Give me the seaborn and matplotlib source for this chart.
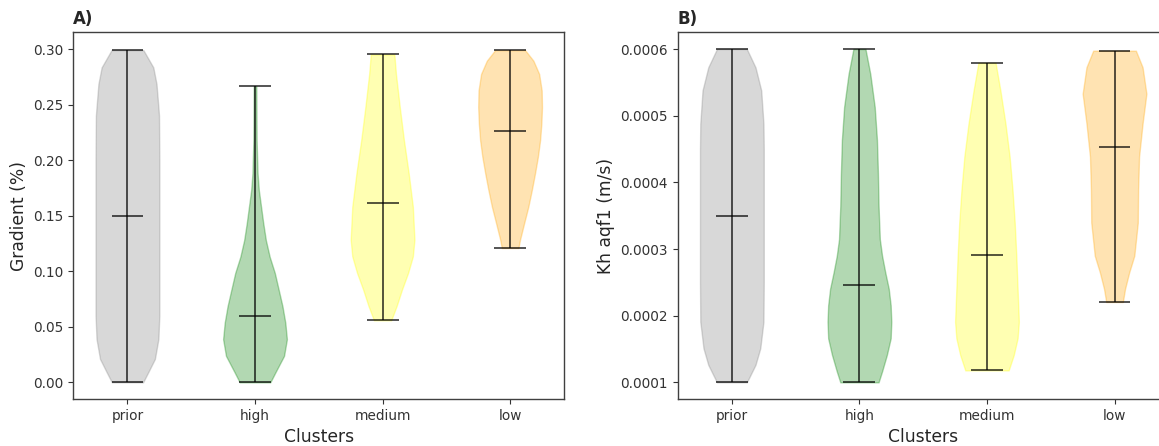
import numpy as np
import matplotlib
matplotlib.use("Agg")
import matplotlib.pyplot as plt
import seaborn as sns

# ---------------- data ----------------
clusters = ["prior", "high", "medium", "low"]
colors = ["grey", "green", "yellow", "orange"]

# Panel A: Gradient (%)
grad_min = [0.0, 0.0, 0.0558, 0.1209]
grad_max = [0.2990, 0.2665, 0.2952, 0.2990]
grad_median = [0.150, 0.0597, 0.1612, 0.2262]

grad_prior_y = [0.0, 0.009, 0.021, 0.039, 0.06, 0.10, 0.15, 0.20, 0.24, 0.2477, 0.2687, 0.2835, 0.299]
grad_prior_d = [0.49, 0.65, 0.86, 0.97, 1.0, 1.0, 1.0, 1.0, 0.99, 0.97, 0.91, 0.81, 0.50]

grad_high_y = [0.0, 0.009, 0.0238, 0.0388, 0.0537, 0.0686, 0.0836, 0.0985, 0.113, 0.128, 0.143, 0.158, 0.173, 0.188, 0.218, 0.2665]
grad_high_d = [0.48, 0.64, 0.91, 1.0, 0.95, 0.86, 0.74, 0.62, 0.46, 0.34, 0.26, 0.19, 0.12, 0.08, 0.05, 0.04]

grad_medium_y = [0.0558, 0.0686, 0.0836, 0.0985, 0.1134, 0.1283, 0.158, 0.188, 0.2179, 0.2477, 0.2776, 0.2952]
grad_medium_d = [0.27, 0.44, 0.61, 0.80, 0.95, 1.0, 0.95, 0.82, 0.67, 0.54, 0.42, 0.37]

grad_low_y = [0.1209, 0.1283, 0.1433, 0.158, 0.173, 0.188, 0.2029, 0.2179, 0.2328, 0.2477, 0.2627, 0.2776, 0.2895, 0.299]
grad_low_d = [0.26, 0.31, 0.44, 0.57, 0.68, 0.78, 0.87, 0.94, 0.98, 1.0, 0.99, 0.91, 0.73, 0.47]

# Panel B: Kh aqf1 (m/s)
kh_min = [0.0001, 0.0001, 0.0001179, 0.0002205]
kh_max = [0.0006, 0.0006, 0.0005792, 0.0005975]
kh_median = [0.000349, 0.0002463, 0.0002909, 0.0004527]

kh_prior_y = [0.0001, 0.0001262, 0.000151, 0.0001908, 0.00025, 0.00035, 0.00045, 0.000488, 0.000538, 0.0005726, 0.0006]
kh_prior_d = [0.47, 0.74, 0.89, 0.99, 1.0, 1.0, 1.0, 0.99, 0.92, 0.74, 0.47]

kh_high_y = [0.0001, 0.0001164, 0.0001411, 0.000166, 0.0001908, 0.0002155, 0.0002403, 0.000265, 0.0002899, 0.0003147, 0.0003643, 0.000414, 0.0004635, 0.000513, 0.0005628, 0.0006]
kh_high_d = [0.60, 0.71, 0.86, 0.98, 1.0, 0.98, 0.92, 0.81, 0.71, 0.64, 0.60, 0.58, 0.55, 0.48, 0.34, 0.19]

kh_medium_y = [0.0001179, 0.0001411, 0.000166, 0.0001908, 0.0002403, 0.0002899, 0.0003396, 0.000389, 0.0004387, 0.000488, 0.000538, 0.0005792]
kh_medium_d = [0.68, 0.84, 0.96, 1.0, 0.96, 0.92, 0.87, 0.80, 0.71, 0.58, 0.42, 0.27]

kh_low_y = [0.0002205, 0.0002403, 0.000265, 0.0002899, 0.0003396, 0.000389, 0.0004387, 0.0004884, 0.000533, 0.0005726, 0.0005975]
kh_low_d = [0.26, 0.33, 0.46, 0.62, 0.73, 0.74, 0.77, 0.88, 1.0, 0.88, 0.67]

grad_ticks = [0.00, 0.05, 0.10, 0.15, 0.20, 0.25, 0.30]
kh_ticks = [0.0001, 0.0002, 0.0003, 0.0004, 0.0005, 0.0006]

# ---------------- style ----------------
sns.set_theme(style="ticks")
plt.rcParams.update({
    "font.family": ["DejaVu Sans"],
    "axes.edgecolor": "0.25",
    "axes.linewidth": 1.0,
    "xtick.major.size": 3.5,
    "ytick.major.size": 3.5,
    "xtick.major.width": 0.8,
    "ytick.major.width": 0.8,
    "xtick.color": "0.2",
    "ytick.color": "0.2",
    "xtick.labelsize": 9.8,
    "ytick.labelsize": 9.8,
    "axes.labelsize": 12.3,
    "axes.labelcolor": "0.15",
})

fig = plt.figure(figsize=(11.59, 4.46), dpi=100)
ax_a = fig.add_axes([0.0632, 0.1054, 0.4237, 0.822])
ax_b = fig.add_axes([0.5847, 0.1054, 0.4237, 0.822])


def draw_panel(ax, ys, ds, mins, maxs, medians, ticks, ylabel, title):
    stats = []
    for y, d, lo, hi, med in zip(ys, ds, mins, maxs, medians):
        stats.append({
            "coords": np.asarray(y, dtype=float),
            "vals": np.asarray(d, dtype=float),
            "mean": med, "median": med, "min": lo, "max": hi,
        })
    parts = ax.violin(stats, positions=[1, 2, 3, 4], widths=0.5,
                      showmeans=False, showextrema=True, showmedians=True)
    for body, c in zip(parts["bodies"], colors):
        body.set_facecolor(c)
        body.set_edgecolor(c)
        body.set_alpha(0.3)
        body.set_linewidth(1.0)
    for key in ("cbars", "cmins", "cmaxes", "cmedians"):
        parts[key].set_color("black")
        parts[key].set_linewidth(1.1)
        parts[key].set_alpha(0.85)
    ax.set_xticks([1, 2, 3, 4], clusters)
    ax.set_yticks(ticks)
    ax.set_xlabel("Clusters")
    ax.set_ylabel(ylabel)
    ax.set_title(title, loc="left", fontweight="bold", fontsize=12)


draw_panel(ax_a,
           [grad_prior_y, grad_high_y, grad_medium_y, grad_low_y],
           [grad_prior_d, grad_high_d, grad_medium_d, grad_low_d],
           grad_min, grad_max, grad_median, grad_ticks,
           "Gradient (%)", "A)")
ax_a.set_yticklabels([f"{t:.2f}" for t in grad_ticks])

draw_panel(ax_b,
           [kh_prior_y, kh_high_y, kh_medium_y, kh_low_y],
           [kh_prior_d, kh_high_d, kh_medium_d, kh_low_d],
           kh_min, kh_max, kh_median, kh_ticks,
           "Kh aqf1 (m/s)", "B)")
ax_b.set_yticklabels([f"{t:.4f}" for t in kh_ticks])

for ax in (ax_a, ax_b):
    ax.set_xlim(0.575, 4.425)

ax_a.set_ylim(-0.015, 0.315)
ax_b.set_ylim(0.000075, 0.000625)

fig.savefig("out.png", dpi=100)
